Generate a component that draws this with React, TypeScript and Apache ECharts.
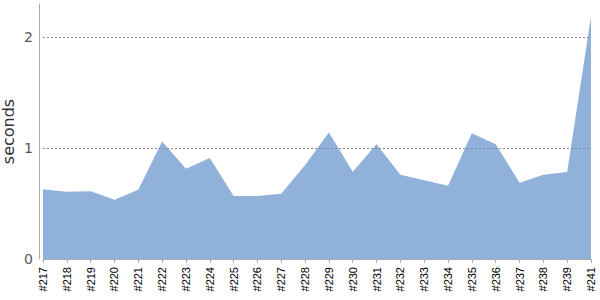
import React, { useEffect, useRef } from "react";
import * as echarts from "echarts";

const builds = [
  "#217", "#218", "#219", "#220", "#221", "#222", "#223", "#224", "#225", "#226",
  "#227", "#228", "#229", "#230", "#231", "#232", "#233", "#234", "#235", "#236",
  "#237", "#238", "#239", "#241",
];
const seconds = [
  0.63, 0.606, 0.612, 0.534, 0.624, 1.06, 0.814, 0.91, 0.568, 0.568,
  0.588, 0.847, 1.14, 0.787, 1.036, 0.76, 0.71, 0.66, 1.135, 1.036,
  0.687, 0.76, 0.784, 2.19,
];
const gridValues = [1, 2];

export default function App() {
  const ref = useRef<HTMLDivElement>(null);
  useEffect(() => {
    if (!ref.current) return;
    const chart = echarts.init(ref.current, undefined, { renderer: "svg" });
    chart.setOption({
      animation: false,
      grid: {
        left: 43, right: 9, top: 4, bottom: 41,
        containLabel: false,
        outerBoundsMode: "none",
      },
      xAxis: {
        type: "category",
        data: builds,
        boundaryGap: false,
        offset: 4,
        axisLine: { show: true, lineStyle: { color: "#aaaaaa", width: 1 } },
        axisTick: { show: true, length: 4, alignWithLabel: true, lineStyle: { color: "#aaaaaa" } },
        axisLabel: {
          interval: 0,
          rotate: 90,
          margin: 4,
          fontSize: 11,
          color: "#000000",
          fontFamily: "Liberation Sans",
          hideOverlap: false,
        },
        splitLine: { show: false },
      },
      yAxis: {
        type: "value",
        min: 0,
        max: 2.3,
        interval: 1,
        offset: 4,
        name: "seconds",
        nameLocation: "middle",
        nameGap: 22,
        nameMoveOverlap: false,
        nameTextStyle: { fontSize: 16, lineHeight: 18, color: "#333333", fontFamily: "DejaVu Sans" },
        axisLine: { show: true, lineStyle: { color: "#aaaaaa", width: 1 } },
        axisTick: { show: false },
        axisLabel: {
          margin: 6,
          fontSize: 14,
          color: "#555555",
          fontFamily: "DejaVu Sans",
          formatter: (v: number) => (Number.isInteger(v) ? String(v) : ""),
        },
        splitLine: { show: false },
      },
      series: [
        {
          type: "line",
          data: seconds,
          symbol: "none",
          lineStyle: { width: 0 },
          areaStyle: { color: "#8fb1da", opacity: 1 },
          markLine: {
            silent: true,
            symbol: ["none", "none"],
            label: { show: false },
            lineStyle: { color: "#888888", type: [2, 2], width: 1 },
            data: gridValues.map((v) => ({ yAxis: v })),
          },
          z: 1,
        },
      ],
    });
    return () => chart.dispose();
  }, []);
  return <div ref={ref} style={{ width: 600, height: 300, position: "absolute", left: 0, top: 0 }} />;
}
